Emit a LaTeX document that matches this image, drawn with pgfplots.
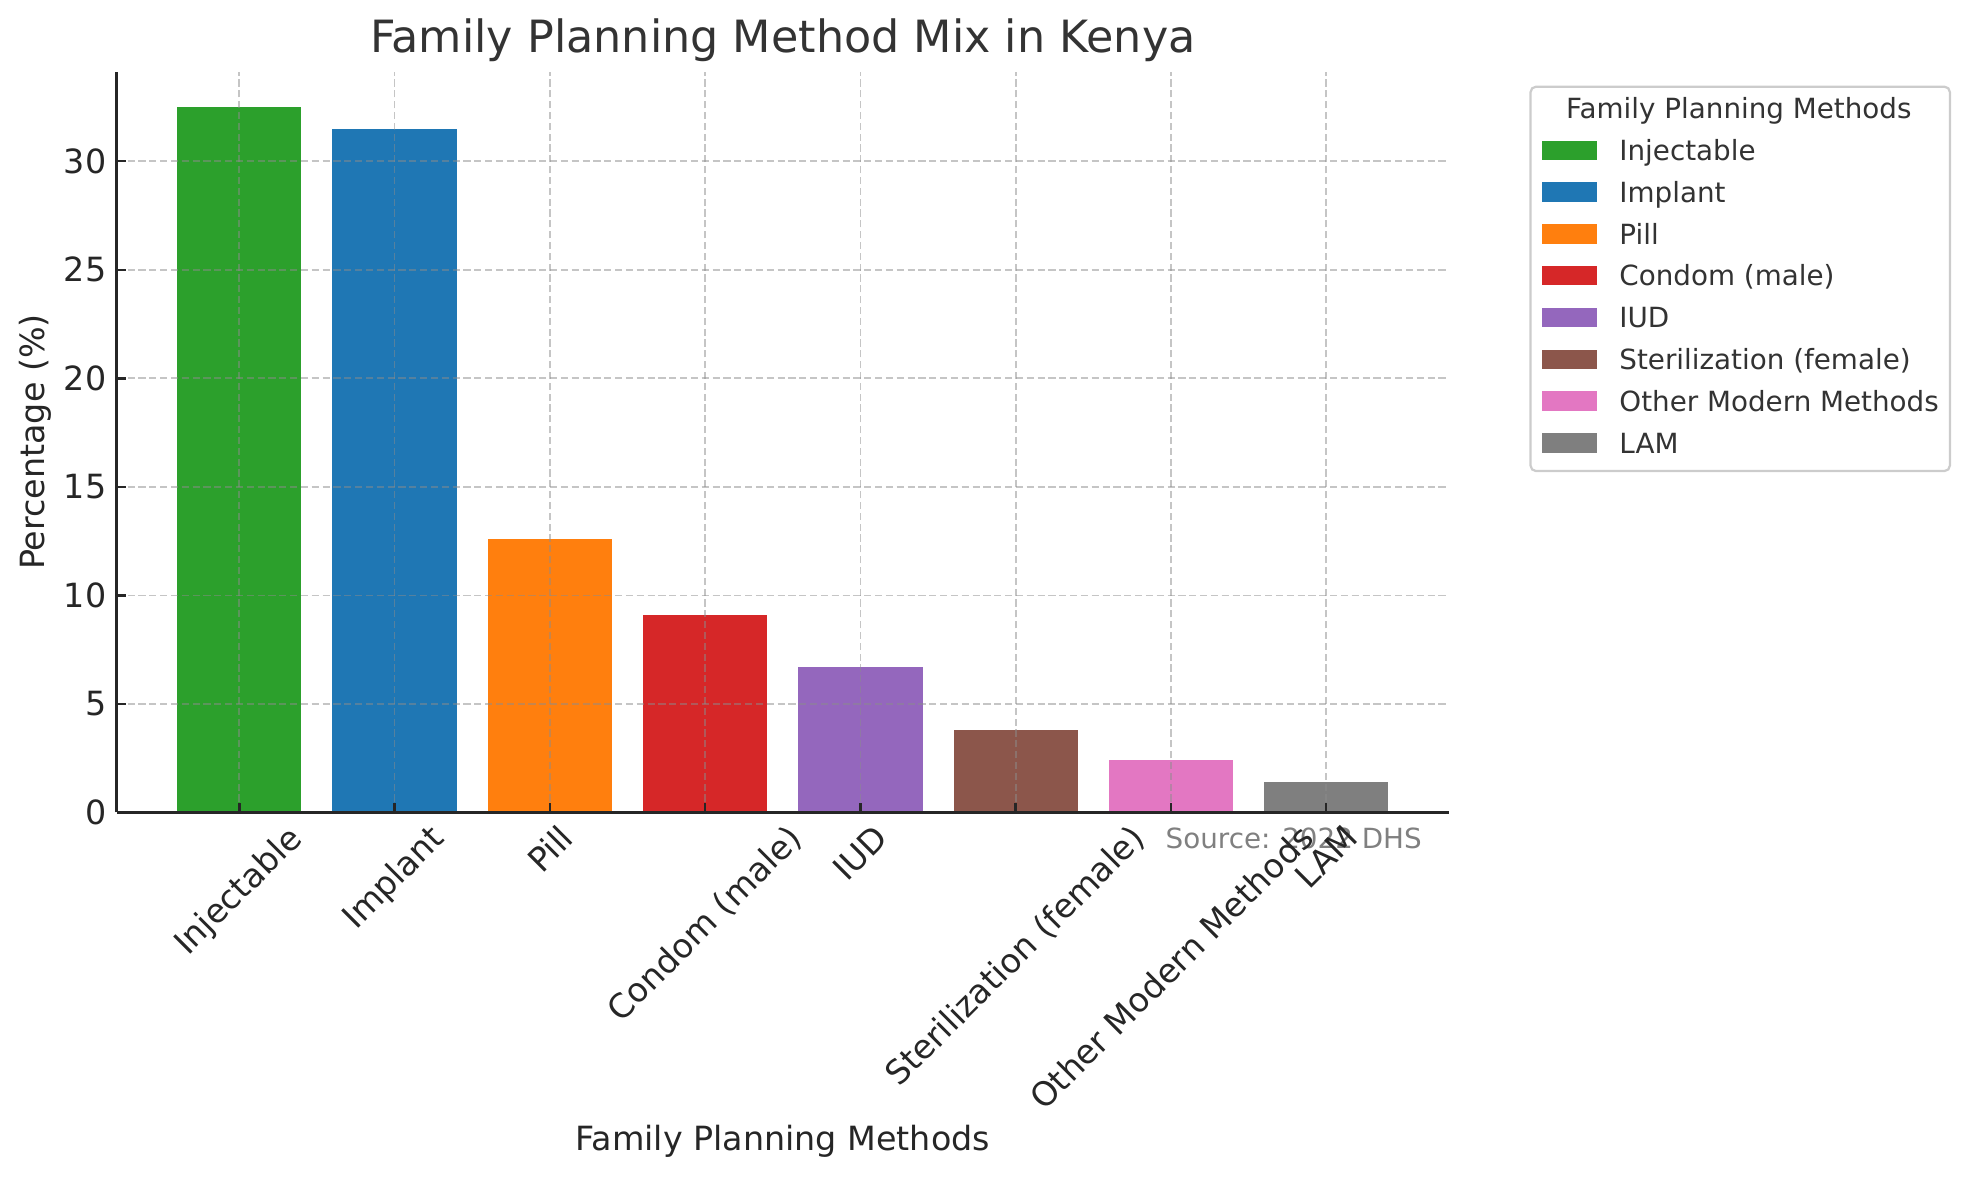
\documentclass[border=0pt]{standalone}
\usepackage{fontspec}
\setmainfont{DejaVu Sans}
\usepackage{pgfplots}
\pgfplotsset{compat=1.18}
\definecolor{cA}{HTML}{2CA02C}
\definecolor{cB}{HTML}{1F77B4}
\definecolor{cC}{HTML}{FF7F0E}
\definecolor{cD}{HTML}{D62728}
\definecolor{cE}{HTML}{9467BD}
\definecolor{cF}{HTML}{8C564B}
\definecolor{cG}{HTML}{E377C2}
\definecolor{cH}{HTML}{7F7F7F}
\definecolor{txt}{HTML}{262626}
\begin{document}
\begin{tikzpicture}
\path[use as bounding box] (-42.0pt,-132.3pt) rectangle (666.84pt,292.5pt);
\begin{axis}[
  at={(0,0)}, anchor=south west,
  scale only axis, width=479.6pt, height=266.7pt,
  clip=false,
  ybar, bar width=0.8,
  xmin=-0.79, xmax=7.79, ymin=0, ymax=34.125,
  xtick={0,1,2,3,4,5,6,7},
  xticklabels={{\rotatebox{45}{Injectable}},{\rotatebox{45}{Implant}},{\rotatebox{45}{Pill}},{\rotatebox{45}{Condom (male)}},{\rotatebox{45}{IUD}},{\rotatebox{45}{Sterilization (female)}},{\rotatebox{45}{Other Modern Methods}},{\rotatebox{45}{LAM}}},
  ytick={0,5,10,15,20,25,30},
  axis x line*=bottom, axis y line*=left,
  axis line style={txt, line width=0.9pt, -},
  tick align=inside, major tick length=3.5pt,
  tick style={txt, line width=0.9pt},
  axis on top,
  grid=major,
  major grid style={dash pattern=on 2.6pt off 1.3pt, black!45, opacity=0.5, line width=0.6pt},
  /pgf/number format/assume math mode=true,
  tick label style={font=\fontsize{12}{14.4}\selectfont, text=txt},
  xticklabel style={anchor=north, inner sep=0pt, yshift=-3.5pt},
  yticklabel style={anchor=east, inner sep=0pt, xshift=-3.5pt},
  xlabel={Family Planning Methods},
  ylabel={Percentage (\%)},
  label style={font=\fontsize{12}{14.4}\selectfont, text=txt},
  xlabel style={at={(axis description cs:0.5,-0.444)}, anchor=center},
  ylabel style={at={(axis description cs:-0.0611,0.5)}, anchor=center},
  title={Family Planning Method Mix in Kenya},
  title style={at={(axis description cs:0.5,1)}, anchor=center, yshift=5.3pt, font=\fontsize{16}{19.2}\selectfont, text=black!80},
  legend image code/.code={\fill[#1, sharp corners] (0pt,-2.35pt) rectangle (20pt,4.65pt);},
  legend style={at={(axis description cs:1.05,1)}, anchor=north west, xshift=5pt, yshift=-5pt,
    draw=black!20, line width=0.8pt, rounded corners=2pt, fill=white,
    inner xsep=4pt, inner ysep=4pt, font=\fontsize{10}{12}\selectfont, text=black!80,
    row sep=5.05pt, column sep=8pt, nodes={inner sep=0pt, text height=7.5pt, text depth=2.5pt},
    cells={anchor=west}},
]
\addlegendimage{empty legend}
\addlegendentry{\hspace{-28pt}\makebox[142pt][c]{Family Planning Methods}}
\addplot[fill=cA, draw=none, bar shift=0pt] coordinates {(0,32.5)};
\addlegendentry{Injectable}
\addplot[fill=cB, draw=none, bar shift=0pt] coordinates {(1,31.5)};
\addlegendentry{Implant}
\addplot[fill=cC, draw=none, bar shift=0pt] coordinates {(2,12.6)};
\addlegendentry{Pill}
\addplot[fill=cD, draw=none, bar shift=0pt] coordinates {(3,9.1)};
\addlegendentry{Condom (male)}
\addplot[fill=cE, draw=none, bar shift=0pt] coordinates {(4,6.7)};
\addlegendentry{IUD}
\addplot[fill=cF, draw=none, bar shift=0pt] coordinates {(5,3.8)};
\addlegendentry{Sterilization (female)}
\addplot[fill=cG, draw=none, bar shift=0pt] coordinates {(6,2.4)};
\addlegendentry{Other Modern Methods}
\addplot[fill=cH, draw=none, bar shift=0pt] coordinates {(7,1.4)};
\addlegendentry{LAM}
\node[anchor=base east, inner sep=0pt, text=black!50, font=\fontsize{10}{12}\selectfont, yshift=-12.96pt] at (axis description cs:0.98,0) {Source: 2022 DHS};
\end{axis}
\end{tikzpicture}
\end{document}
